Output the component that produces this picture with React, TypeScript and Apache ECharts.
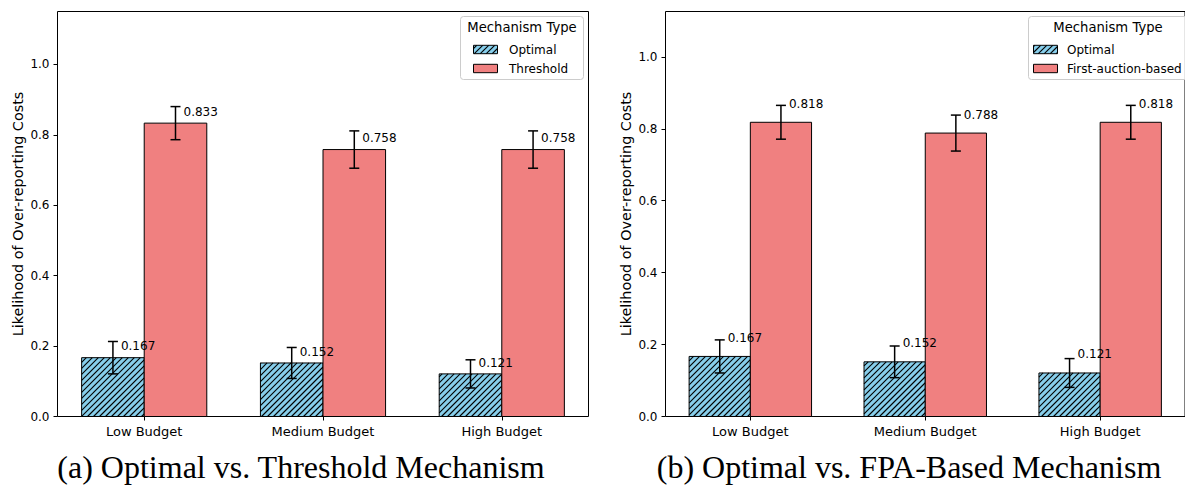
import React, { useEffect, useRef } from 'react';
import * as echarts from 'echarts';

// ---------- data ----------
const CATEGORIES = ['Low Budget', 'Medium Budget', 'High Budget'];
const Y_TICKS = [0, 0.2, 0.4, 0.6, 0.8, 1.0];
const OPTIMAL = [0.167, 0.152, 0.121];
const OPTIMAL_ERR = [0.046, 0.044, 0.040];
const THRESHOLD = [0.833, 0.758, 0.758];
const THRESHOLD_ERR = [0.047, 0.053, 0.053];
const FPA = [0.818, 0.788, 0.818];
const FPA_ERR = [0.047, 0.050, 0.047];
const SERIES_NAMES_A = ['Optimal', 'Threshold'];
const SERIES_NAMES_B = ['Optimal', 'First-auction-based'];
const LEGEND_TITLE = 'Mechanism Type';
const Y_LABEL = 'Likelihood of Over-reporting Costs';
const CAPTION_A = '(a) Optimal vs. Threshold Mechanism';
const CAPTION_B = '(b) Optimal vs. FPA-Based Mechanism';

// ---------- style / layout ----------
const COLOR_OPT = '#87CEEB';
const COLOR_OTHER = '#F08080';
const BAR_W = 0.35;
const HATCH = 6;
const SANS = '"DejaVu Sans", sans-serif';
const SERIF = '"Liberation Serif", serif';

const PANELS = [
  {
    grid: { left: 57.5, top: 11.5, width: 531, height: 405 },
    yMax: 1.15,
    labelDy: 11.3,
    legend: { x: 460.5, y: 16.5, w: 123, h: 63, patchX: 473.5, textX: 509, titleX: 522 },
    yLabelX: 18,
    captionX: 301,
    names: SERIES_NAMES_A,
    other: THRESHOLD,
    otherErr: THRESHOLD_ERR,
    caption: CAPTION_A,
  },
  {
    grid: { left: 665.5, top: 11.5, width: 532, height: 405 },
    yMax: 1.126,
    labelDy: 18.5,
    legend: { x: 1028.5, y: 16.5, w: 166, h: 63, patchX: 1033.5, textX: 1067, titleX: 1108 },
    yLabelX: 625.5,
    captionX: 909,
    names: SERIES_NAMES_B,
    other: FPA,
    otherErr: FPA_ERR,
    caption: CAPTION_B,
  },
];

function hatchLines(rx: number, ry: number, w: number, h: number) {
  const out: any[] = [];
  const k0 = Math.ceil((rx + ry) / HATCH);
  const k1 = Math.floor((rx + w + ry + h) / HATCH);
  for (let k = k0; k <= k1; k++) {
    const c = k * HATCH;
    const xa = Math.max(rx, c - (ry + h));
    const xb = Math.min(rx + w, c - ry);
    if (xb - xa < 0.3) continue;
    out.push({
      type: 'line',
      shape: { x1: xa, y1: c - xa, x2: xb, y2: c - xb },
      style: { stroke: '#000', lineWidth: 1.1 },
      silent: true,
    });
  }
  return out;
}

function barRenderer(color: string, hatched: boolean) {
  return (params: any, api: any) => {
    const x = api.value(0);
    const v = api.value(1);
    const p0 = api.coord([x - BAR_W / 2, v]);
    const p1 = api.coord([x + BAR_W / 2, 0]);
    const rx = p0[0];
    const ry = p0[1];
    const w = p1[0] - p0[0];
    const h = p1[1] - p0[1];
    const children: any[] = [
      { type: 'rect', shape: { x: rx, y: ry, width: w, height: h }, style: { fill: color } },
    ];
    if (hatched) children.push(...hatchLines(rx, ry, w, h));
    children.push({
      type: 'rect',
      shape: { x: rx, y: ry, width: w, height: h },
      style: { fill: 'none', stroke: '#000', lineWidth: 1 },
    });
    return { type: 'group', children };
  };
}

function errRenderer(labelDy: number) {
  return (params: any, api: any) => {
    const x = api.value(0);
    const v = api.value(1);
    const e = api.value(2);
    const top = api.coord([x, v + e]);
    const bot = api.coord([x, v - e]);
    const barTop = api.coord([x, v]);
    const cx = top[0];
    const cap = 5;
    const ls = { stroke: '#000', lineWidth: 1.5 };
    return {
      type: 'group',
      children: [
        { type: 'line', shape: { x1: cx, y1: top[1], x2: cx, y2: bot[1] }, style: ls },
        { type: 'line', shape: { x1: cx - cap, y1: top[1], x2: cx + cap, y2: top[1] }, style: ls },
        { type: 'line', shape: { x1: cx - cap, y1: bot[1], x2: cx + cap, y2: bot[1] }, style: ls },
        {
          type: 'text',
          style: {
            text: v.toFixed(3),
            x: cx + 8,
            y: barTop[1] - labelDy,
            fill: '#000',
            font: `12px ${SANS}`,
            textAlign: 'left',
            textVerticalAlign: 'middle',
          },
        },
      ],
    };
  };
}

function legendGraphics(p: any) {
  const L = p.legend;
  const els: any[] = [];
  els.push({
    type: 'rect',
    shape: { x: L.x, y: L.y, width: L.w, height: L.h, r: 3 },
    style: { fill: 'rgba(255,255,255,0.8)', stroke: '#cccccc', lineWidth: 1 },
    z: 100,
  });
  els.push({
    type: 'text',
    style: {
      text: LEGEND_TITLE, x: L.titleX, y: 27.5, fill: '#000',
      font: `13.2px ${SANS}`, textAlign: 'center', textVerticalAlign: 'middle',
    },
    z: 101,
  });
  const rows = [49.5, 68.5];
  p.names.forEach((name: string, i: number) => {
    const cy = rows[i];
    const px = L.patchX, py = cy - 4.2, pw = 24, ph = 8.4;
    els.push({ type: 'rect', shape: { x: px, y: py, width: pw, height: ph }, style: { fill: i === 0 ? COLOR_OPT : COLOR_OTHER }, z: 101 });
    if (i === 0) hatchLines(px, py, pw, ph).forEach((l) => els.push({ ...l, z: 102 }));
    els.push({ type: 'rect', shape: { x: px, y: py, width: pw, height: ph }, style: { fill: 'none', stroke: '#000', lineWidth: 1 }, z: 103 });
    els.push({
      type: 'text',
      style: { text: name, x: L.textX, y: cy, fill: '#000', font: `12px ${SANS}`, textAlign: 'left', textVerticalAlign: 'middle' },
      z: 101,
    });
  });
  return els;
}

function buildOption() {
  const grid: any[] = [];
  const xAxis: any[] = [];
  const yAxis: any[] = [];
  const series: any[] = [];
  const graphic: any[] = [];

  PANELS.forEach((p, pi) => {
    grid.push({ ...p.grid, show: true, borderColor: '#000', borderWidth: 1, backgroundColor: 'transparent', containLabel: false });
    xAxis.push({
      type: 'value',
      gridIndex: pi,
      position: 'bottom',
      min: -0.485,
      max: 2.485,
      splitLine: { show: false },
      axisLine: { show: false, onZero: false },
      axisTick: { show: true, customValues: [0, 1, 2], length: 4, lineStyle: { color: '#000', width: 1 } },
      axisLabel: {
        show: true,
        customValues: [0, 1, 2],
        formatter: (v: number) => CATEGORIES[Math.round(v)] ?? '',
        fontSize: 13,
        fontFamily: SANS,
        color: '#000',
        margin: 8,
      },
    });
    yAxis.push({
      type: 'value',
      gridIndex: pi,
      position: 'left',
      min: 0,
      max: p.yMax,
      interval: 0.2,
      splitLine: { show: false },
      axisLine: { show: false, onZero: false },
      axisTick: { show: true, customValues: Y_TICKS, length: 4, lineStyle: { color: '#000', width: 1 } },
      axisLabel: {
        show: true,
        customValues: Y_TICKS,
        formatter: (v: number) => v.toFixed(1),
        fontSize: 12,
        fontFamily: SANS,
        color: '#000',
        margin: 8,
      },
    });
    series.push({
      type: 'custom',
      name: p.names[0],
      xAxisIndex: pi,
      yAxisIndex: pi,
      renderItem: barRenderer(COLOR_OPT, true),
      encode: { x: 0, y: 1 },
      data: OPTIMAL.map((v, i) => [i - BAR_W / 2, v]),
      z: 2,
    });
    series.push({
      type: 'custom',
      name: p.names[1],
      xAxisIndex: pi,
      yAxisIndex: pi,
      renderItem: barRenderer(COLOR_OTHER, false),
      encode: { x: 0, y: 1 },
      data: p.other.map((v, i) => [i + BAR_W / 2, v]),
      z: 2,
    });
    series.push({
      type: 'custom',
      xAxisIndex: pi,
      yAxisIndex: pi,
      renderItem: errRenderer(p.labelDy),
      encode: { x: 0, y: 1 },
      data: [
        ...OPTIMAL.map((v, i) => [i - BAR_W / 2, v, OPTIMAL_ERR[i]]),
        ...p.other.map((v, i) => [i + BAR_W / 2, v, p.otherErr[i]]),
      ],
      z: 3,
    });
    graphic.push(...legendGraphics(p));
    graphic.push({
      type: 'text',
      x: p.yLabelX,
      y: p.grid.top + p.grid.height / 2,
      rotation: Math.PI / 2,
      style: { text: Y_LABEL, x: 0, y: 0, fill: '#000', font: `14.4px ${SANS}`, textAlign: 'center', textVerticalAlign: 'middle' },
    });
    graphic.push({
      type: 'text',
      style: { text: p.caption, x: p.captionX, y: 467, fill: '#000', font: `32px ${SERIF}`, textAlign: 'center', textVerticalAlign: 'middle' },
    });
  });

  return {
    animation: false,
    backgroundColor: '#fff',
    grid,
    xAxis,
    yAxis,
    series,
    graphic,
  };
}

export default function App() {
  const ref = useRef<HTMLDivElement>(null);
  useEffect(() => {
    const chart = echarts.init(ref.current!, null, { renderer: 'svg' });
    chart.setOption(buildOption() as any);
    return () => chart.dispose();
  }, []);
  return (
    <div
      ref={ref}
      style={{ position: 'fixed', left: 0, top: 0, width: 1185, height: 487, background: '#fff' }}
    />
  );
}
